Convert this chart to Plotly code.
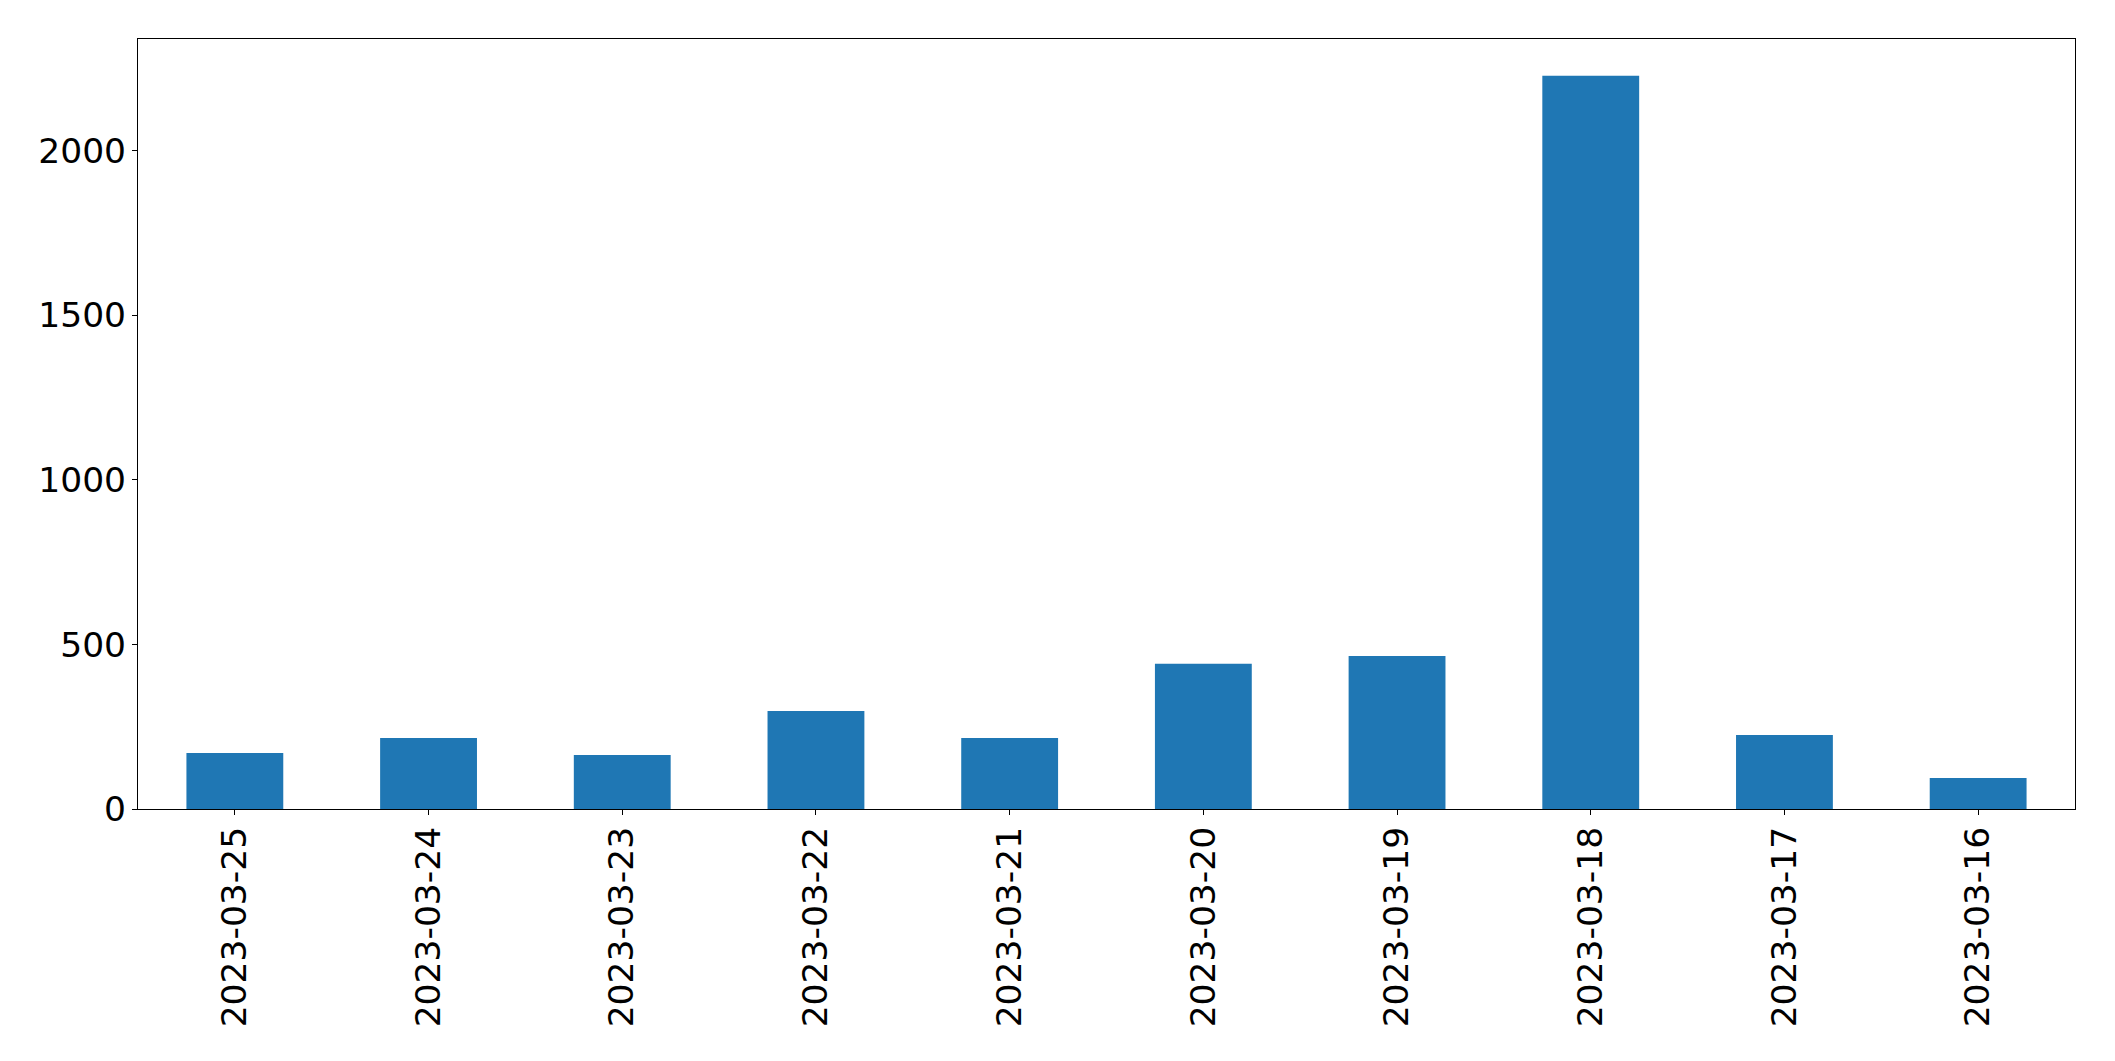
import plotly.graph_objects as go

dates = ["2023-03-25", "2023-03-24", "2023-03-23", "2023-03-22", "2023-03-21",
         "2023-03-20", "2023-03-19", "2023-03-18", "2023-03-17", "2023-03-16"]
counts = [170, 216, 164, 298, 216, 441, 465, 2228, 225, 94]

fig = go.Figure(go.Bar(x=dates, y=counts, width=0.5, marker=dict(color="#1f77b4", line=dict(width=0))))

font = dict(family="DejaVu Sans", size=34.5, color="black")
fig.update_layout(
    width=2115, height=1061,
    margin=dict(l=138, r=40, t=39, b=252),
    paper_bgcolor="white", plot_bgcolor="white",
    font=font, showlegend=False,
)
fig.update_xaxes(type="category", range=[-0.5, len(dates) - 0.5], tickangle=-90,
                 showline=True, linecolor="black", linewidth=1.1, mirror=True,
                 ticks="outside", ticklen=5, tickwidth=1.1, tickcolor="black",
                 showgrid=False, zeroline=False, tickfont=font, ticklabelstandoff=-2)
fig.update_yaxes(range=[0, max(counts) * 1.05], tickvals=[0, 500, 1000, 1500, 2000],
                 showline=True, linecolor="black", linewidth=1.1, mirror=True,
                 ticks="outside", ticklen=5, tickwidth=1.1, tickcolor="black",
                 showgrid=False, zeroline=False, tickfont=font, ticklabelstandoff=-1)

fig.write_html("out.html")
